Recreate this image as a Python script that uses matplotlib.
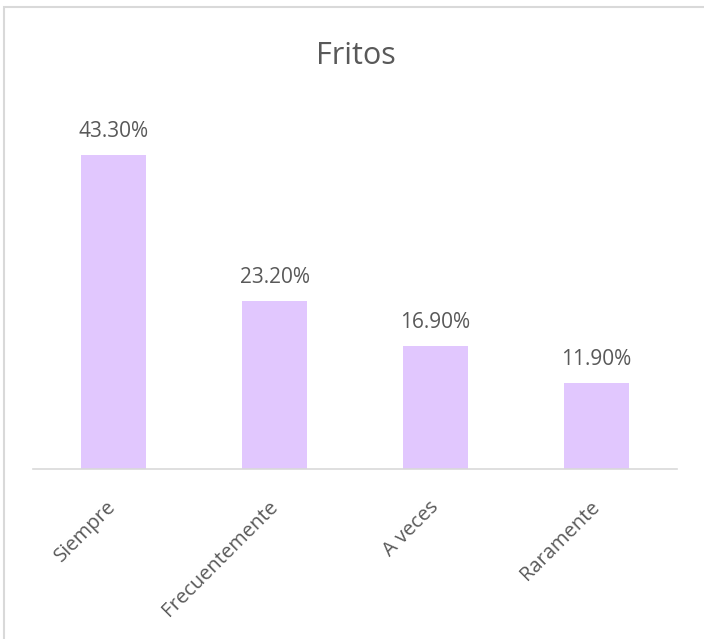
import matplotlib.pyplot as plt
from matplotlib.patches import Rectangle

categories = ["Siempre", "Frecuentemente", "A veces", "Raramente"]
values = [43.3, 23.2, 16.9, 11.9]
labels = ["43.30%", "23.20%", "16.90%", "11.90%"]

plt.rcParams['font.family'] = ['Open Sans', 'DejaVu Sans']
text_color = "#595959"
grey = "#D9D9D9"

fig = plt.figure(figsize=[7.04, 6.39], dpi=100)
ax = fig.add_axes([0.0469, 0.266, 0.9148, 0.5675])

x = range(len(categories))
bars = ax.bar(x, values, width=0.4, color="#E1C7FE")

for b, lab in zip(bars, labels):
    ax.annotate(lab, (b.get_x() + b.get_width() / 2, b.get_height()),
                xytext=(0, 13), textcoords="offset points",
                ha="center", va="baseline", fontsize=15, color=text_color)

ax.set_xlim(-0.5, len(categories) - 0.5)
ax.set_ylim(0, 50)
ax.set_yticks([])
ax.set_xticks(list(x))
ax.set_xticklabels(categories, rotation=45, ha="right", va="center",
                   rotation_mode="anchor", fontsize=14.5, color=text_color)
ax.tick_params(axis="x", length=0, pad=25)

for s in ["top", "right", "left"]:
    ax.spines[s].set_visible(False)
ax.spines["bottom"].set_color(grey)
ax.spines["bottom"].set_linewidth(1.2)

fig.text(0.506, 1 - 64 / 639, "Fritos", ha="center", va="baseline",
         fontsize=22, color=text_color)

# chart frame
fig.patches.append(Rectangle((4 / 704, -0.1), 1.1, 1 - 7 / 639 + 0.1,
                             transform=fig.transFigure, fill=False,
                             edgecolor=grey, linewidth=1.5))

fig.savefig("out.png", dpi=100)
